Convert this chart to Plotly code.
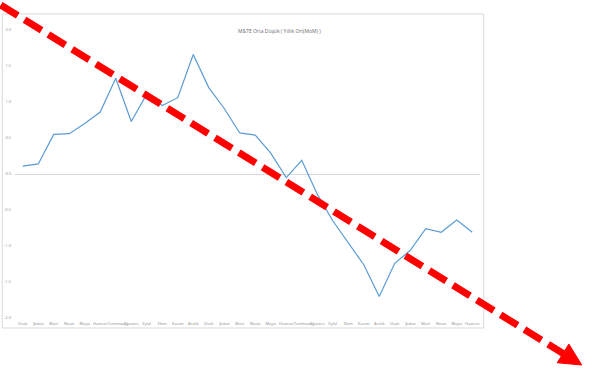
import plotly.graph_objects as go

months = ["Ocak", "Şubat", "Mart", "Nisan", "Mayıs", "Haziran", "Temmuz", "Ağustos",
          "Eylül", "Ekim", "Kasım", "Aralık",
          "Ocak", "Şubat", "Mart", "Nisan", "Mayıs", "Haziran", "Temmuz", "Ağustos",
          "Eylül", "Ekim", "Kasım", "Aralık",
          "Ocak", "Şubat", "Mart", "Nisan", "Mayıs", "Haziran"]
values = [0.11, 0.14, 0.55, 0.56, 0.70, 0.86, 1.33, 0.73, 1.11, 0.95, 1.06, 1.66,
          1.20, 0.91, 0.57, 0.54, 0.29, -0.05, 0.19, -0.28, -0.65, -0.96, -1.26, -1.70,
          -1.24, -1.06, -0.76, -0.81, -0.64, -0.81]
y_ticks = [2.0, 1.5, 1.0, 0.5, 0.0, -0.5, -1.0, -1.5, -2.0]
title_text = "M&TE Orta Düşük ( Yıllık Ort(MoM) )"

W_FIG, H_FIG = 600, 373
L, T = 15.25, 30.0
PW, PH = 465.0, 288.0
R = W_FIG - L - PW
B = H_FIG - T - PH

def px(x):
    return (x - L) / PW

def py(y):
    return 1 - (y - T) / PH

idx = list(range(len(months)))

fig = go.Figure()
fig.add_trace(go.Scatter(x=idx, y=values, mode="lines",
                         line=dict(color="#5B9BD5", width=1.2),
                         hoverinfo="skip", showlegend=False))

# arrow geometry (pixels)
x0, y0 = 1.0, 5.0
tipx, tipy = 582.0, 365.0
dx, dy = tipx - x0, tipy - y0
ln = (dx ** 2 + dy ** 2) ** 0.5
ux, uy = dx / ln, dy / ln
hl, hw = 22.0, 11.0
bx, by = tipx - hl * ux, tipy - hl * uy
p1 = (bx - hw * uy, by + hw * ux)
p2 = (bx + hw * uy, by - hw * ux)

shapes = [
    dict(type="rect", xref="paper", yref="paper",
         x0=px(2.5), y0=py(328), x1=px(484), y1=py(14),
         line=dict(color="#d9d9d9", width=1), layer="below"),
    dict(type="line", xref="paper", yref="paper",
         x0=px(x0), y0=py(y0), x1=px(bx + 2 * ux), y1=py(by + 2 * uy),
         line=dict(color="#ff0000", width=7, dash="20px,8px")),
    dict(type="path", xref="paper", yref="paper",
         path="M {} {} L {} {} L {} {} Z".format(px(tipx), py(tipy), px(p1[0]), py(p1[1]),
                                                 px(p2[0]), py(p2[1])),
         fillcolor="#ff0000", line=dict(color="#ff0000", width=1)),
]

fig.update_layout(
    template="none",
    width=W_FIG, height=H_FIG,
    margin=dict(l=L, r=R, t=T, b=B, pad=0, autoexpand=False),
    paper_bgcolor="white", plot_bgcolor="white",
    font=dict(family="Open Sans", size=4, color="#8a8a8a"),
    shapes=shapes,
    annotations=[dict(text=title_text, xref="paper", yref="paper",
                      x=px(280), y=py(31), showarrow=False,
                      xanchor="center", yanchor="middle",
                      font=dict(family="Open Sans", size=5, color="#6b6b6b"))],
    xaxis=dict(range=[-0.5, len(months) - 0.5], tickvals=idx, ticktext=months,
               showgrid=False, zeroline=False, showline=False, ticks="",
               tickangle=0, ticklabelstandoff=2, automargin=False, fixedrange=True),
    yaxis=dict(range=[-2.0, 2.0], tickvals=y_ticks,
               ticktext=["{:.1f}".format(v) for v in y_ticks],
               showgrid=False, zeroline=True, zerolinecolor="#d9d9d9", zerolinewidth=1,
               showline=False, ticks="", ticklabelstandoff=3, automargin=False,
               fixedrange=True),
)

fig.write_html("out.html", config={"displayModeBar": False, "staticPlot": True},
               post_script="document.body.style.margin='0';document.body.style.overflow='hidden';")
